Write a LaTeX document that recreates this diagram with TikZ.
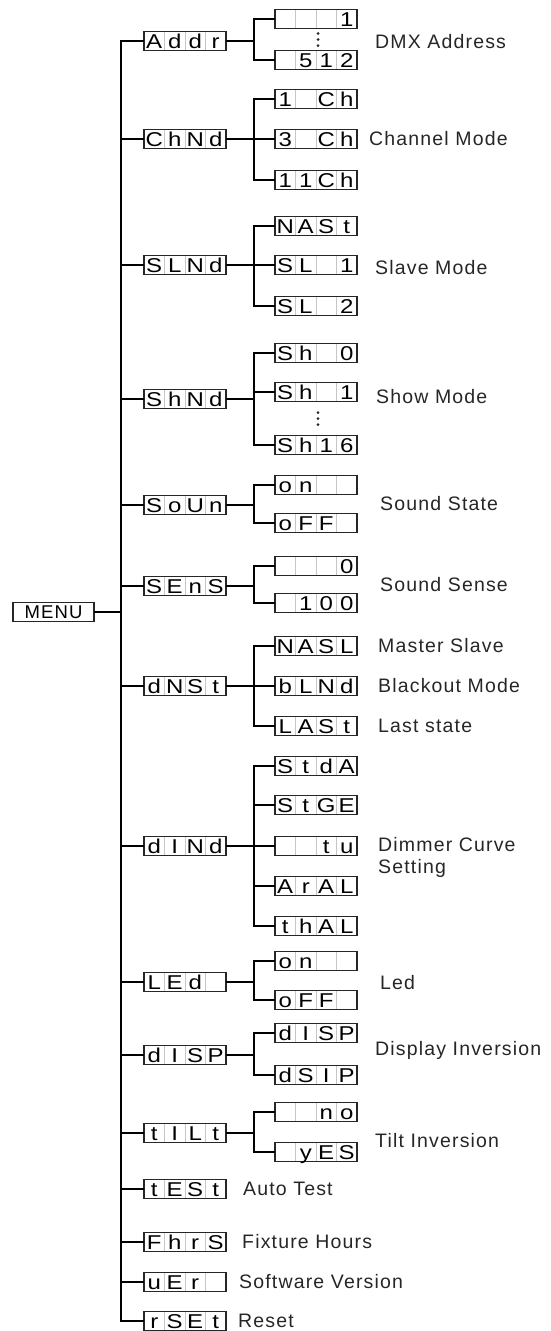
\documentclass[tikz,border=0pt]{standalone}
\usepackage{fontspec}
\setmainfont{Liberation Sans}
\newfontfamily\lblfont[LetterSpace=6]{Liberation Sans}
\newfontfamily\segfont[FakeStretch=1.2]{Liberation Sans}
\usetikzlibrary{positioning, calc}

% eine Stelle der Anzeige und die vierstellige Anzeige
\newcommand{\lcdcell}[1]{\makebox[20.5pt][c]{#1}}
\newcommand{\lcd}[4]{\lcdcell{#1}\lcdcell{#2}\lcdcell{#3}\lcdcell{#4}}

\begin{document}
\begin{tikzpicture}[
    x=1pt, y=-1pt,
    lcd/.style={draw=black!85, line width=1.2pt, rectangle, inner sep=0pt, outer sep=0pt,
        minimum width=82pt, minimum height=19pt, text height=14.2pt, text depth=0pt,
        font=\segfont\fontsize{20}{20}\selectfont,
        path picture={\foreach \k in {1,2,3} {\draw[gray!45, line width=0.7pt]
            ($(path picture bounding box.south west)!\k/4!(path picture bounding box.south east)$) --
            ($(path picture bounding box.north west)!\k/4!(path picture bounding box.north east)$);}}},
    menubox/.style={draw=black!85, line width=1.2pt, rectangle, inner sep=0pt, outer sep=0pt,
        minimum width=81pt, minimum height=19pt, font=\lblfont\fontsize{18.5}{18}\selectfont},
    edge/.style={line width=1.9pt, black},
    desc/.style={font=\lblfont\fontsize{19.5}{22}\selectfont, inner sep=0pt, align=left, text=black!85},
    punkt/.style={fill=black!85}
]
\useasboundingbox (0,0) rectangle (550,1331);

% --- KNOTEN ---
% Hauptmenue und Hilfskoordinaten fuer die senkrechten Linien
\node[menubox] (menu) at (53.5,612) {MENU};
\coordinate (spine) at (121,0);
\coordinate (fork) at (254,0);

% erste Ebene, untereinander
\node[lcd] (addr) at (185,41) {\lcd{A}{d}{d}{r}};
\node[lcd, below=79pt of addr] (chnd) {\lcd{C}{h}{N}{d}};
\node[lcd, below=107pt of chnd] (slnd) {\lcd{S}{L}{N}{d}};
\node[lcd, below=115pt of slnd] (shnd) {\lcd{S}{h}{N}{d}};
\node[lcd, below=87pt of shnd] (soun) {\lcd{S}{o}{U}{n}};
\node[lcd, below=62pt of soun] (sens) {\lcd{S}{E}{n}{S}};
\node[lcd, below=81pt of sens] (dnst) {\lcd{d}{N}{S}{t}};
\node[lcd, below=141pt of dnst] (dind) {\lcd{d}{I}{N}{d}};
\node[lcd, below=117pt of dind] (led) {\lcd{L}{E}{d}{}};
\node[lcd, below=54pt of led] (disp) {\lcd{d}{I}{S}{P}};
\node[lcd, below=59pt of disp] (tilt) {\lcd{t}{I}{L}{t}};
\node[lcd, below=37pt of tilt] (test) {\lcd{t}{E}{S}{t}};
\node[lcd, below=34pt of test] (fhrs) {\lcd{F}{h}{r}{S}};
\node[lcd, below=21pt of fhrs] (ver) {\lcd{u}{E}{r}{}};
\node[lcd, below=20pt of ver] (rset) {\lcd{r}{S}{E}{t}};

% zweite Ebene: Adresse
\node[lcd, right=49pt of addr, yshift=22pt] (a1) {\lcd{}{}{}{1}};
\node[lcd, below=22pt of a1] (a2) {\lcd{}{5}{1}{2}};

% Kanalmodus
\node[lcd, right=49pt of chnd, yshift=40pt] (c1) {\lcd{1}{}{C}{h}};
\node[lcd, below=21pt of c1] (c2) {\lcd{3}{}{C}{h}};
\node[lcd, below=22pt of c2] (c3) {\lcd{1}{1}{C}{h}};

% Slave-Modus
\node[lcd, right=49pt of slnd, yshift=39pt] (s1) {\lcd{N}{A}{S}{t}};
\node[lcd, below=20pt of s1] (s2) {\lcd{S}{L}{}{1}};
\node[lcd, below=22pt of s2] (s3) {\lcd{S}{L}{}{2}};

% Show-Modus
\node[lcd, right=49pt of shnd, yshift=46pt] (h1) {\lcd{S}{h}{}{0}};
\node[lcd, below=20pt of h1] (h2) {\lcd{S}{h}{}{1}};
\node[lcd, below=34pt of h2] (h3) {\lcd{S}{h}{1}{6}};

% Sound
\node[lcd, right=49pt of soun, yshift=20pt] (o1) {\lcd{o}{n}{}{}};
\node[lcd, below=19pt of o1] (o2) {\lcd{o}{F}{F}{}};
\node[lcd, right=49pt of sens, yshift=20pt] (e1) {\lcd{}{}{}{0}};
\node[lcd, below=18pt of e1] (e2) {\lcd{}{1}{0}{0}};

% Zustand ohne DMX
\node[lcd, right=49pt of dnst, yshift=40pt] (m1) {\lcd{N}{A}{S}{L}};
\node[lcd, below=21pt of m1] (m2) {\lcd{b}{L}{N}{d}};
\node[lcd, below=21pt of m2] (m3) {\lcd{L}{A}{S}{t}};

% Dimmerkurve
\node[lcd, right=49pt of dind, yshift=80pt] (d1) {\lcd{S}{t}{d}{A}};
\node[lcd, below=20pt of d1] (d2) {\lcd{S}{t}{G}{E}};
\node[lcd, below=22pt of d2] (d3) {\lcd{}{}{t}{u}};
\node[lcd, below=21pt of d3] (d4) {\lcd{A}{r}{A}{L}};
\node[lcd, below=21pt of d4] (d5) {\lcd{t}{h}{A}{L}};

% Led, Anzeige, Tilt
\node[lcd, right=49pt of led, yshift=21pt] (l1) {\lcd{o}{n}{}{}};
\node[lcd, below=20pt of l1] (l2) {\lcd{o}{F}{F}{}};
\node[lcd, right=49pt of disp, yshift=22pt] (p1) {\lcd{d}{I}{S}{P}};
\node[lcd, below=23pt of p1] (p2) {\lcd{d}{S}{I}{P}};
\node[lcd, right=49pt of tilt, yshift=21pt] (t1) {\lcd{}{}{n}{o}};
\node[lcd, below=21pt of t1] (t2) {\lcd{}{y}{E}{S}};

% Beschriftungen
\node[desc, anchor=west] at ($(a1.east)!0.5!(a2.east)+(18,2)$) {DMX Address};
\node[desc, right=12pt of c2] {Channel Mode};
\node[desc, right=18pt of s2, yshift=-3pt] {Slave Mode};
\node[desc, right=19pt of h2, yshift=-5pt] {Show Mode};
\node[desc, anchor=west] at ($(o1.east)!0.5!(o2.east)+(23,0)$) {Sound State};
\node[desc, anchor=west] at ($(e1.east)!0.5!(e2.east)+(23,0)$) {Sound Sense};
\node[desc, right=21pt of m1] {Master Slave};
\node[desc, right=21pt of m2] {Blackout Mode};
\node[desc, right=21pt of m3] {Last state};
\node[desc, right=21pt of d3, yshift=-11pt] {Dimmer Curve\\Setting};
\node[desc, anchor=west] at ($(l1.east)!0.5!(l2.east)+(23,2)$) {Led};
\node[desc, anchor=west] at ($(p1.east)!0.5!(p2.east)+(18,-4)$) {Display Inversion};
\node[desc, anchor=west] at ($(t1.east)!0.5!(t2.east)+(18,9)$) {Tilt Inversion};
\node[desc, right=17pt of test] {Auto Test};
\node[desc, right=16pt of fhrs] {Fixture Hours};
\node[desc, right=13pt of ver] {Software Version};
\node[desc, right=12pt of rset] {Reset};

% Auslassungspunkte zwischen den Anzeigen
\foreach \k in {-6,0,6} {
    \fill[punkt] ($(a1)!0.5!(a2)+(2,\k)$) circle (1.5pt);
    \fill[punkt] ($(h2)!0.5!(h3)+(2,\k)$) circle (1.5pt);
}

% --- KANTEN ---
% Hauptstamm mit den Abzweigen der ersten Ebene
\draw[edge] (menu.east) -- (menu.east -| spine);
\draw[edge] (addr.west) -- (addr.west -| spine) -- (rset.west -| spine) -- (rset.west);
\foreach \n in {chnd,slnd,shnd,soun,sens,dnst,dind,led,disp,tilt,test,fhrs,ver}
    \draw[edge] (\n.west -| spine) -- (\n.west);

% Gabeln der zweiten Ebene: Eltern/erstes/letztes Kind
\foreach \p/\f/\l in {addr/a1/a2, chnd/c1/c3, slnd/s1/s3, shnd/h1/h3, soun/o1/o2,
        sens/e1/e2, dnst/m1/m3, dind/d1/d5, led/l1/l2, disp/p1/p2, tilt/t1/t2} {
    \draw[edge] (\p.east) -- (\p.east -| fork);
    \draw[edge] (\f.west) -- (\f.west -| fork) -- (\l.west -| fork) -- (\l.west);
}
% mittlere Kinder
\foreach \c in {c2, s2, h2, m2, d2, d3, d4}
    \draw[edge] (\c.west -| fork) -- (\c.west);

\end{tikzpicture}
\end{document}
